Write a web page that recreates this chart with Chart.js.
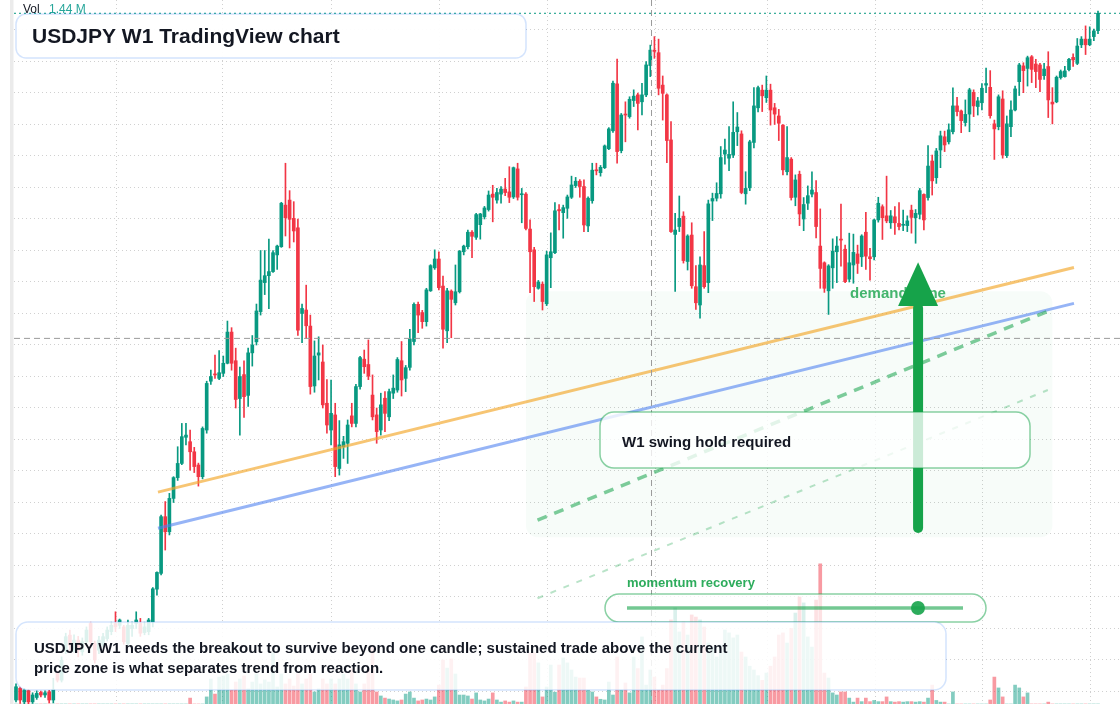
<!DOCTYPE html>
<html>
<head>
<meta charset="utf-8">
<title>USDJPY W1 TradingView chart</title>
<script src="https://cdn.jsdelivr.net/npm/chart.js@4.4.1/dist/chart.umd.min.js"></script>
<style>
  html, body { margin: 0; padding: 0; background: #ffffff; }
  #wrap { position: relative; width: 1120px; height: 704px; overflow: hidden; }
  canvas { display: block; }
</style>
</head>
<body>
<div id="wrap"><canvas id="usdjpyChart" width="1120" height="704"></canvas></div>
<script>
// weekly candles, oldest first
const weekOpen = [
  139.73, 140.10, 139.67, 140.03, 139.67, 139.81, 139.97, 139.89, 139.99, 139.73,
  140.57, 140.36, 141.31, 141.79, 141.37, 141.63, 141.26, 141.58, 142.16, 141.52,
  141.31, 141.47, 141.68, 141.90, 142.16, 142.10, 142.05, 141.52, 142.00, 142.16,
  142.16, 141.87, 141.90, 142.20, 143.25, 143.75, 145.55, 145.07, 146.13, 146.79,
  147.24, 148.07, 147.93, 147.61, 147.19, 146.82, 148.30, 149.85, 150.08, 149.94,
  150.10, 150.42, 151.41, 150.50, 149.30, 150.06, 149.40, 150.75, 151.10, 152.06,
  152.98, 153.20, 153.33, 153.86, 154.12, 155.44, 155.60, 155.02, 154.72, 152.00,
  152.11, 151.60, 149.70, 150.68, 150.46, 149.15, 148.30, 148.78, 147.08, 147.77,
  147.88, 148.75, 148.51, 149.68, 150.55, 150.38, 149.41, 148.78, 148.30, 149.31,
  148.72, 149.47, 149.57, 150.50, 149.94, 150.29, 151.11, 152.29, 152.03, 151.74,
  152.72, 153.45, 153.73, 152.87, 151.45, 152.71, 152.34, 152.69, 153.96, 154.12,
  154.58, 154.42, 154.82, 155.07, 155.30, 155.79, 155.60, 155.79, 155.95, 155.86,
  155.70, 156.59, 155.77, 155.79, 154.68, 154.02, 152.80, 152.93, 152.31, 153.77,
  153.93, 155.30, 155.20, 155.34, 155.69, 156.06, 156.20, 156.03, 154.78, 155.58,
  156.55, 156.47, 156.63, 157.23, 157.80, 159.29, 157.17, 158.32, 158.25, 158.76,
  158.94, 158.72, 158.94, 159.87, 160.36, 160.28, 159.25, 158.94, 157.51, 154.51,
  154.76, 155.09, 153.65, 154.49, 152.85, 152.27, 153.52, 152.98, 155.57, 155.66,
  155.80, 157.06, 156.93, 157.03, 157.77, 157.70, 155.80, 155.99, 157.43, 158.53,
  159.09, 158.85, 159.09, 158.53, 158.27, 157.98, 156.50, 156.90, 155.69, 156.42,
  155.00, 155.50, 155.79, 155.84, 154.14, 153.61, 152.72, 153.45, 153.96, 154.36,
  154.04, 153.09, 153.54, 153.89, 153.80, 154.58, 153.80, 153.80, 154.97, 155.39,
  155.10, 154.88, 155.07, 154.86, 154.80, 154.79, 155.28, 155.04, 155.15, 155.78,
  155.68, 156.84, 156.31, 157.19, 157.61, 157.45, 157.77, 158.59, 158.43, 158.06,
  158.33, 159.02, 158.57, 158.69, 159.25, 159.18, 158.02, 157.93, 158.81, 157.01,
  157.93, 158.46, 159.36, 159.86, 159.78, 160.15, 159.92, 159.89, 159.55, 159.84,
  158.71, 158.72, 159.49, 159.52, 159.74, 160.13, 159.94, 160.53, 160.71, 160.53,
  160.79, 160.98
];
const weekHigh = [
  140.24, 140.15, 140.10, 140.07, 139.96, 140.02, 140.01, 140.02, 140.04, 140.42,
  140.65, 141.10, 141.85, 141.95, 141.80, 141.75, 141.70, 142.05, 142.20, 141.60,
  141.75, 141.85, 142.05, 142.20, 142.53, 142.30, 142.10, 142.27, 142.20, 142.53,
  142.32, 142.20, 142.32, 143.30, 143.80, 145.60, 146.03, 146.29, 146.82, 147.77,
  148.51, 148.51, 148.30, 147.75, 147.25, 148.40, 149.85, 150.20, 150.68, 150.82,
  150.65, 151.76, 151.55, 150.90, 150.30, 150.50, 150.90, 151.30, 152.30, 154.00,
  154.00, 154.36, 154.00, 154.17, 155.53, 156.77, 155.90, 155.55, 155.00, 152.30,
  152.90, 151.95, 151.13, 151.26, 151.00, 149.90, 149.89, 149.15, 148.60, 148.10,
  148.62, 149.15, 149.75, 150.64, 150.84, 151.16, 150.05, 149.00, 149.47, 149.52,
  149.60, 150.05, 150.60, 151.11, 150.35, 151.50, 152.34, 152.36, 152.10, 152.80,
  153.55, 154.02, 153.96, 153.19, 152.80, 152.75, 153.54, 154.00, 154.17, 154.65,
  154.63, 155.18, 155.18, 155.40, 155.89, 156.07, 155.97, 156.03, 156.29, 156.66,
  156.65, 156.77, 155.97, 155.84, 154.97, 154.10, 153.05, 153.00, 153.98, 154.56,
  155.52, 155.46, 155.44, 155.76, 156.36, 156.32, 156.25, 156.24, 155.70, 156.77,
  156.77, 156.70, 157.35, 157.90, 159.38, 160.08, 158.35, 158.72, 158.88, 159.10,
  159.00, 159.31, 160.00, 160.52, 160.79, 160.71, 159.54, 158.97, 158.09, 155.18,
  155.73, 155.23, 154.50, 154.88, 153.52, 153.80, 154.60, 155.60, 155.82, 156.15,
  157.30, 157.54, 157.93, 158.72, 158.38, 157.80, 156.50, 157.50, 159.17, 159.22,
  159.25, 159.54, 159.28, 158.67, 158.48, 158.00, 157.93, 156.95, 156.40, 156.52,
  155.68, 156.05, 156.50, 156.22, 155.32, 153.64, 153.55, 154.37, 154.44, 155.47,
  154.17, 154.55, 154.52, 154.17, 154.50, 155.21, 154.07, 155.00, 155.69, 155.45,
  156.36, 155.27, 155.39, 155.52, 155.28, 155.10, 155.44, 155.30, 155.97, 155.80,
  157.33, 157.03, 157.24, 157.79, 157.79, 158.02, 159.16, 158.86, 158.46, 158.78,
  159.15, 159.10, 158.86, 159.30, 159.79, 159.71, 158.14, 158.94, 159.07, 158.27,
  158.75, 159.22, 159.94, 159.96, 160.17, 160.19, 160.07, 159.94, 159.94, 160.31,
  159.17, 159.54, 159.73, 159.85, 160.10, 160.24, 160.73, 160.79, 161.13, 161.10,
  161.03, 161.60
];
const weekLow = [
  139.67, 139.62, 139.60, 139.60, 139.62, 139.75, 139.83, 139.81, 139.64, 139.64,
  140.30, 140.30, 141.20, 141.30, 141.25, 141.10, 141.15, 141.50, 141.40, 140.90,
  141.20, 141.40, 141.60, 141.80, 141.90, 142.00, 141.50, 141.45, 141.75, 142.00,
  141.75, 141.80, 141.80, 142.05, 143.06, 143.70, 144.49, 144.97, 146.00, 146.70,
  147.20, 147.83, 147.03, 146.95, 146.52, 146.75, 148.20, 149.75, 149.94, 149.90,
  150.00, 150.40, 150.20, 149.00, 148.14, 148.70, 149.05, 150.33, 151.00, 151.95,
  152.60, 152.15, 153.30, 153.40, 154.10, 154.46, 154.08, 154.27, 151.30, 151.07,
  151.20, 149.44, 149.50, 149.89, 149.00, 148.20, 147.83, 146.82, 146.87, 147.40,
  147.24, 148.40, 148.40, 149.60, 150.10, 149.90, 148.62, 147.88, 148.14, 148.25,
  148.60, 149.30, 149.50, 149.38, 149.52, 150.20, 151.00, 151.39, 151.53, 151.60,
  152.70, 153.40, 152.75, 150.90, 151.07, 151.23, 152.27, 152.65, 153.86, 154.05,
  153.77, 154.35, 154.36, 155.00, 155.25, 154.91, 155.50, 155.50, 155.74, 155.52,
  155.65, 155.60, 154.88, 154.65, 152.66, 152.38, 152.77, 152.11, 152.25, 152.82,
  153.90, 154.65, 154.39, 155.02, 155.65, 156.00, 155.69, 154.60, 154.60, 155.50,
  156.40, 156.36, 156.60, 157.20, 157.75, 156.77, 157.10, 157.45, 158.20, 158.57,
  157.83, 158.30, 158.88, 159.52, 160.10, 158.94, 158.14, 156.79, 154.57, 152.70,
  154.60, 153.60, 153.38, 152.80, 152.13, 151.85, 152.80, 152.66, 154.95, 155.57,
  155.66, 156.74, 156.53, 156.95, 157.33, 155.80, 155.47, 155.90, 157.26, 158.40,
  158.41, 158.70, 157.98, 158.00, 157.49, 156.40, 156.40, 155.60, 155.42, 154.79,
  154.63, 155.30, 155.70, 154.40, 152.80, 152.67, 151.97, 152.80, 152.98, 153.50,
  152.98, 153.00, 152.96, 153.27, 153.49, 153.40, 153.06, 153.70, 154.90, 154.35,
  154.88, 154.70, 154.51, 154.65, 154.63, 154.60, 154.55, 154.23, 155.00, 154.65,
  155.60, 155.76, 156.13, 156.63, 157.14, 157.38, 157.70, 158.27, 157.74, 157.95,
  157.77, 158.25, 158.30, 158.46, 159.01, 158.20, 156.89, 157.83, 156.93, 156.95,
  157.61, 158.43, 158.92, 159.01, 159.22, 159.33, 159.17, 159.04, 159.43, 158.22,
  158.02, 158.69, 159.44, 159.50, 159.70, 159.84, 159.90, 160.44, 160.22, 160.50,
  160.66, 160.88
];
const weekClose = [
  140.15, 139.73, 140.05, 139.67, 139.89, 139.94, 139.89, 139.96, 139.73, 140.07,
  140.36, 140.99, 141.74, 141.47, 141.63, 141.31, 141.58, 141.95, 141.58, 141.00,
  141.63, 141.74, 141.95, 142.10, 142.05, 142.27, 141.58, 142.10, 142.10, 142.27,
  141.85, 142.05, 142.27, 143.26, 143.78, 145.55, 145.07, 146.13, 146.79, 147.24,
  148.09, 148.14, 147.61, 147.14, 146.82, 148.35, 149.78, 150.00, 150.05, 150.12,
  150.42, 151.41, 150.42, 149.27, 150.00, 149.36, 150.75, 151.00, 152.08, 153.06,
  153.20, 153.33, 153.93, 154.14, 155.50, 155.04, 154.99, 154.62, 151.47, 152.16,
  151.61, 149.68, 150.65, 150.75, 149.10, 148.46, 148.83, 147.14, 147.83, 147.93,
  148.46, 148.51, 149.68, 150.60, 150.31, 150.01, 148.72, 148.25, 149.10, 148.83,
  149.52, 149.63, 150.54, 149.89, 150.28, 151.19, 152.29, 151.95, 151.74, 152.75,
  153.52, 153.73, 152.82, 151.50, 152.72, 152.45, 152.69, 153.98, 154.14, 154.58,
  154.45, 155.14, 155.16, 155.35, 155.76, 155.69, 155.84, 155.95, 155.84, 155.69,
  156.63, 155.69, 155.80, 154.70, 153.96, 152.85, 153.00, 152.38, 153.86, 153.96,
  155.26, 155.26, 155.36, 155.70, 156.08, 156.20, 156.03, 154.81, 155.66, 156.55,
  156.53, 156.64, 157.32, 157.86, 159.31, 157.14, 158.30, 158.30, 158.80, 158.90,
  158.67, 158.94, 159.89, 160.36, 160.32, 159.15, 158.99, 157.49, 154.60, 154.65,
  155.02, 153.68, 154.46, 152.88, 152.34, 153.54, 152.85, 155.48, 155.65, 155.81,
  156.95, 157.19, 157.05, 157.75, 157.92, 155.84, 155.97, 157.45, 158.59, 159.17,
  158.91, 159.09, 158.46, 158.33, 158.04, 156.56, 156.95, 155.68, 156.24, 155.16,
  155.46, 155.74, 155.92, 154.76, 153.43, 152.80, 153.51, 153.98, 154.14, 154.33,
  153.01, 153.61, 153.94, 153.59, 154.46, 153.82, 153.74, 154.97, 155.50, 155.04,
  154.94, 155.10, 154.88, 154.76, 154.82, 154.94, 155.05, 155.18, 155.90, 154.97,
  156.68, 156.21, 157.16, 157.64, 157.35, 157.83, 158.59, 158.41, 158.12, 158.32,
  159.10, 158.59, 158.75, 159.15, 159.30, 158.28, 157.86, 158.88, 157.03, 158.02,
  158.46, 159.13, 159.89, 159.71, 160.12, 159.75, 159.68, 159.43, 159.76, 158.78,
  158.65, 159.50, 159.68, 159.70, 160.07, 160.05, 160.49, 160.71, 160.53, 160.71,
  160.97, 161.53
];
// volume in millions
const weekVolume = [
  0, 0, 0, 0, 0, 0, 0, 0, 0, 0,
  0, 0, 0, 0, 0, 0, 0, 0, 0, 0,
  0, 0, 0, 0, 0, 0, 0, 0, 0, 0,
  0, 0, 0, 0, 0, 0, 0, 0, 0, 0,
  0, 0, 0.25, 0, 0, 0, 0.30, 1.06, 0.42, 1.14,
  1.19, 1.27, 0.59, 0.93, 1.06, 1.19, 0.64, 0.93, 1.27, 0.85,
  1.02, 0.93, 2.16, 0.72, 1.27, 0.85, 1.06, 0.76, 1.27, 0.85,
  1.06, 1.27, 0.51, 0.64, 1.06, 0.85, 1.06, 0.85, 1.06, 1.27,
  1.06, 1.48, 0.85, 0.51, 0.85, 1.48, 2.41, 0.51, 0.34, 0.25,
  0.21, 0.17, 0.13, 0.17, 0.42, 0.51, 0.25, 0.13, 0.17, 0.21,
  0.17, 0.30, 0.80, 1.86, 1.52, 1.91, 1.27, 0.38, 0.38, 0.34,
  0.21, 0.47, 0.17, 0.13, 0.21, 0.47, 0.17, 0.08, 0.13, 0.08,
  0.13, 0.08, 0.08, 0.72, 2.16, 2.16, 1.74, 0.30, 0.72, 1.65,
  0.50, 1.65, 1.95, 1.74, 1.44, 1.14, 1.10, 1.10, 0.59, 0.51,
  0.30, 0.20, 0.17, 0.93, 0.38, 1.99, 0.59, 0.89, 0.47, 1.99,
  1.50, 2.84, 0.80, 1.44, 1.14, 0.60, 0.80, 1.50, 3.56, 4.07,
  3.05, 3.47, 2.92, 3.77, 3.68, 3.56, 3.26, 2.58, 2.41, 1.99,
  2.50, 3.13, 3.01, 2.80, 2.92, 2.20, 1.99, 1.60, 1.44, 1.20,
  1.00, 1.31, 1.60, 1.99, 2.92, 3.01, 2.58, 3.20, 3.85, 4.53,
  4.28, 2.84, 2.41, 4.40, 5.93, 1.31, 1.10, 0.47, 0.38, 0.51,
  0.51, 0.25, 0.08, 0.25, 0.10, 0.25, 0.10, 0.15, 0.10, 0.10,
  0.30, 0.10, 0.08, 0.10, 0.08, 0.10, 0.10, 0.08, 0.10, 0.08,
  0.25, 0.80, 0.15, 0.08, 0.08, 0, 0.51, 0, 0, 0,
  0, 0, 0, 0, 0, 0.17, 1.14, 0.68, 0.30, 0,
  0, 0.80, 0.68, 0.30, 0.47, 0, 0, 0, 0, 0.08,
  0, 0, 0, 0, 0, 0, 0, 0, 0, 0,
  0, 0
];

// half-year separators (week index) and price grid
const gridWeeks = [24.2, 49.9, 76.1, 102.1, 128.2, 154.3, 181.2, 207.4, 233.1, 259.2];
const priceTicks = [140, 141, 142, 143, 144, 145, 146, 147, 148, 149, 150,
                    151, 152, 153, 154, 155, 156, 157, 158, 159, 160, 161];

// drawn levels: [week, price] pairs
const orangeTrend = [[34.25, 146.33], [255.2, 153.46]];
const blueTrend = [[34.25, 145.18], [255.2, 152.32]];
const holdPath = [[125.8, 145.44], [248.9, 152.07]];
const recoveryPath = [[125.8, 142.96], [248.9, 149.57]];

const demandZone = { fromWeek: 123, toWeek: 250, top: 152.71, bottom: 144.9 };
const zoneLabel = { week: 201.2, price: 152.48 };
const recoveryArrow = { week: 217.6, base: 145.19, neck: 152.24, tip: 153.63 };
const crosshair = { week: 153.3, price: 151.21 };
const momentumLevel = 0.866;

const volumeLabel = '1.44 M';
const titleText = 'USDJPY W1 TradingView chart';
const noteLines = [
  'USDJPY W1 needs the breakout to survive beyond one candle; sustained trade above the current',
  'price zone is what separates trend from reaction.'
];

const upColor = '#089981';
const downColor = '#f23645';
const weeks = weekOpen.map((_, i) => i);
const isUp = weeks.map(i => weekClose[i] >= weekOpen[i]);
const candleColors = isUp.map(u => (u ? upColor : downColor));
const volumeColors = isUp.map(u => (u ? 'rgba(8, 153, 129, 0.5)' : 'rgba(242, 54, 69, 0.5)'));

const bodyData = weeks.map(i => ({ x: i, y: [weekOpen[i], weekClose[i]] }));
const wickData = weeks.map(i => ({ x: i, y: [weekLow[i], weekHigh[i]] }));
const volumeData = weeks.map(i => ({ x: i, y: weekVolume[i] }));
const toPoints = pairs => pairs.map(p => ({ x: p[0], y: p[1] }));

const font = (size, bold) => (bold ? 'bold ' : '') + size + 'px "Liberation Sans", Arial, sans-serif';

function roundedRect(ctx, x, y, w, h, r) {
    ctx.beginPath();
    ctx.moveTo(x + r, y);
    ctx.arcTo(x + w, y, x + w, y + h, r);
    ctx.arcTo(x + w, y + h, x, y + h, r);
    ctx.arcTo(x, y + h, x, y, r);
    ctx.arcTo(x, y, x + w, y, r);
    ctx.closePath();
}

const overlays = {
    id: 'overlays',
    beforeDraw(chart) {
        const { ctx, chartArea } = chart;
        ctx.save();
        ctx.fillStyle = '#ffffff';
        ctx.fillRect(0, 0, chart.width, chart.height);
        ctx.fillStyle = '#ebebeb';
        ctx.fillRect(chartArea.left - 4, 0, 3.5, chart.height);
        ctx.restore();
    },
    beforeDatasetsDraw(chart) {
        const { ctx } = chart;
        const x = chart.scales.x, y = chart.scales.y;
        const x0 = x.getPixelForValue(demandZone.fromWeek);
        const x1 = x.getPixelForValue(demandZone.toWeek);
        const y0 = y.getPixelForValue(demandZone.top);
        const y1 = y.getPixelForValue(demandZone.bottom);
        ctx.save();
        roundedRect(ctx, x0, y0, x1 - x0, y1 - y0, 12);
        ctx.fillStyle = 'rgba(22, 163, 74, 0.035)';
        ctx.fill();
        ctx.restore();
    },
    afterDatasetsDraw(chart) {
        const { ctx, chartArea } = chart;
        const x = chart.scales.x, y = chart.scales.y;
        ctx.save();

        // last price line
        const lastY = y.getPixelForValue(weekClose[weekClose.length - 1]);
        ctx.strokeStyle = upColor;
        ctx.lineWidth = 1;
        ctx.setLineDash([2, 3]);
        ctx.beginPath();
        ctx.moveTo(chartArea.left, lastY);
        ctx.lineTo(chartArea.right, lastY);
        ctx.stroke();

        // crosshair
        const cx = x.getPixelForValue(crosshair.week);
        const cy = y.getPixelForValue(crosshair.price);
        ctx.strokeStyle = '#9a9a9a';
        ctx.setLineDash([6, 4]);
        ctx.beginPath();
        ctx.moveTo(cx, chartArea.top);
        ctx.lineTo(cx, chartArea.bottom);
        ctx.moveTo(chartArea.left, cy);
        ctx.lineTo(chartArea.right, cy);
        ctx.stroke();
        ctx.setLineDash([]);

        // zone label (partly under the arrow head)
        ctx.font = font(15, true);
        ctx.fillStyle = 'rgba(22, 163, 74, 0.8)';
        ctx.textBaseline = 'alphabetic';
        ctx.fillText('demand zone', x.getPixelForValue(zoneLabel.week), y.getPixelForValue(zoneLabel.price));

        // arrow
        const ax = x.getPixelForValue(recoveryArrow.week);
        const aBase = y.getPixelForValue(recoveryArrow.base);
        const aNeck = y.getPixelForValue(recoveryArrow.neck);
        const aTip = y.getPixelForValue(recoveryArrow.tip);
        ctx.strokeStyle = '#16a34a';
        ctx.fillStyle = '#16a34a';
        ctx.lineWidth = 10;
        ctx.lineCap = 'round';
        ctx.beginPath();
        ctx.moveTo(ax, aBase);
        ctx.lineTo(ax, aNeck + 2);
        ctx.stroke();
        ctx.lineCap = 'butt';
        ctx.beginPath();
        ctx.moveTo(ax, aTip);
        ctx.lineTo(ax + 20, aNeck);
        ctx.lineTo(ax - 20, aNeck);
        ctx.closePath();
        ctx.fill();

        // hold box
        roundedRect(ctx, 600, 412, 430, 56, 14);
        ctx.fillStyle = 'rgba(255, 255, 255, 0.78)';
        ctx.fill();
        ctx.strokeStyle = 'rgba(22, 163, 74, 0.5)';
        ctx.lineWidth = 1.5;
        ctx.stroke();
        ctx.fillStyle = '#131722';
        ctx.font = font(15, true);
        ctx.fillText('W1 swing hold required', 622, 446.5);

        // momentum slider
        ctx.fillStyle = 'rgba(22, 163, 74, 0.9)';
        ctx.font = font(13, true);
        ctx.fillText('momentum recovery', 627, 587);
        roundedRect(ctx, 605, 594, 381, 28, 14);
        ctx.fillStyle = 'rgba(255, 255, 255, 0.7)';
        ctx.fill();
        ctx.strokeStyle = 'rgba(22, 163, 74, 0.5)';
        ctx.lineWidth = 1.5;
        ctx.stroke();
        const t0 = 627, t1 = 963, ty = 608;
        ctx.strokeStyle = 'rgba(22, 163, 74, 0.6)';
        ctx.lineWidth = 3.5;
        ctx.beginPath();
        ctx.moveTo(t0, ty);
        ctx.lineTo(t1, ty);
        ctx.stroke();
        ctx.fillStyle = 'rgba(22, 163, 74, 0.9)';
        ctx.beginPath();
        ctx.arc(t0 + (t1 - t0) * momentumLevel, ty, 7, 0, Math.PI * 2);
        ctx.fill();

        // note box
        roundedRect(ctx, 16, 622, 930, 68, 12);
        ctx.fillStyle = 'rgba(255, 255, 255, 0.86)';
        ctx.fill();
        ctx.strokeStyle = 'rgba(59, 130, 246, 0.22)';
        ctx.lineWidth = 1.5;
        ctx.stroke();
        ctx.fillStyle = '#131722';
        ctx.font = font(15, true);
        noteLines.forEach((line, k) => ctx.fillText(line, 34, 652.7 + k * 20));

        // title box
        roundedRect(ctx, 16, 14, 510, 44, 10);
        ctx.fillStyle = 'rgba(255, 255, 255, 0.96)';
        ctx.fill();
        ctx.strokeStyle = 'rgba(59, 130, 246, 0.22)';
        ctx.stroke();
        ctx.fillStyle = '#131722';
        ctx.font = font(21, true);
        ctx.fillText(titleText, 32, 43.3);

        // volume readout
        ctx.font = font(12, false);
        ctx.fillStyle = '#131722';
        ctx.fillText('Vol', 23, 12.8);
        ctx.fillStyle = '#26a69a';
        ctx.fillText(volumeLabel, 49, 12.8);

        ctx.restore();
    }
};

const gridColor = 'rgba(150, 150, 150, 0.45)';

new Chart(document.getElementById('usdjpyChart').getContext('2d'), {
    type: 'bar',
    data: {
        datasets: [
            { type: 'line', label: 'Hold path', data: toPoints(holdPath), borderColor: 'rgba(22, 163, 74, 0.55)',
              borderWidth: 3.5, borderDash: [10, 8], pointRadius: 0, order: 1 },
            { type: 'line', label: 'Recovery path', data: toPoints(recoveryPath), borderColor: 'rgba(22, 163, 74, 0.3)',
              borderWidth: 2, borderDash: [6, 8], pointRadius: 0, order: 1 },
            { type: 'line', label: 'Orange trend', data: toPoints(orangeTrend), borderColor: 'rgba(243, 166, 40, 0.65)',
              borderWidth: 3, pointRadius: 0, order: 2 },
            { type: 'line', label: 'Blue trend', data: toPoints(blueTrend), borderColor: 'rgba(80, 130, 240, 0.6)',
              borderWidth: 3, pointRadius: 0, order: 2 },
            { label: 'Body', data: bodyData, backgroundColor: candleColors, barThickness: 3,
              minBarLength: 1, grouped: false, order: 3 },
            { label: 'Wick', data: wickData, backgroundColor: candleColors, barThickness: 1,
              minBarLength: 1, grouped: false, order: 4 },
            { label: 'Volume', data: volumeData, yAxisID: 'yVol', backgroundColor: volumeColors,
              barThickness: 3, grouped: false, order: 5 }
        ]
    },
    options: {
        responsive: false,
        animation: false,
        devicePixelRatio: 1,
        layout: { padding: { left: 14, right: 0, top: 0, bottom: 0 } },
        plugins: { legend: { display: false }, tooltip: { enabled: false } },
        scales: {
            x: {
                type: 'linear',
                min: -0.482,
                max: 266.306,
                offset: false,
                grid: { color: gridColor, lineWidth: 1, drawTicks: false, offset: false },
                border: { display: false, dash: [1, 3] },
                ticks: { display: false },
                afterBuildTicks: axis => { axis.ticks = gridWeeks.map(v => ({ value: v })); }
            },
            y: {
                position: 'left',
                min: 139.603,
                max: 161.952,
                grid: { color: gridColor, lineWidth: 1, drawTicks: false },
                border: { display: false, dash: [1, 3] },
                ticks: { display: false },
                afterBuildTicks: axis => { axis.ticks = priceTicks.map(v => ({ value: v })); }
            },
            yVol: { display: false, min: 0, max: 29.8 }
        }
    },
    plugins: [overlays]
});
</script>
</body>
</html>
